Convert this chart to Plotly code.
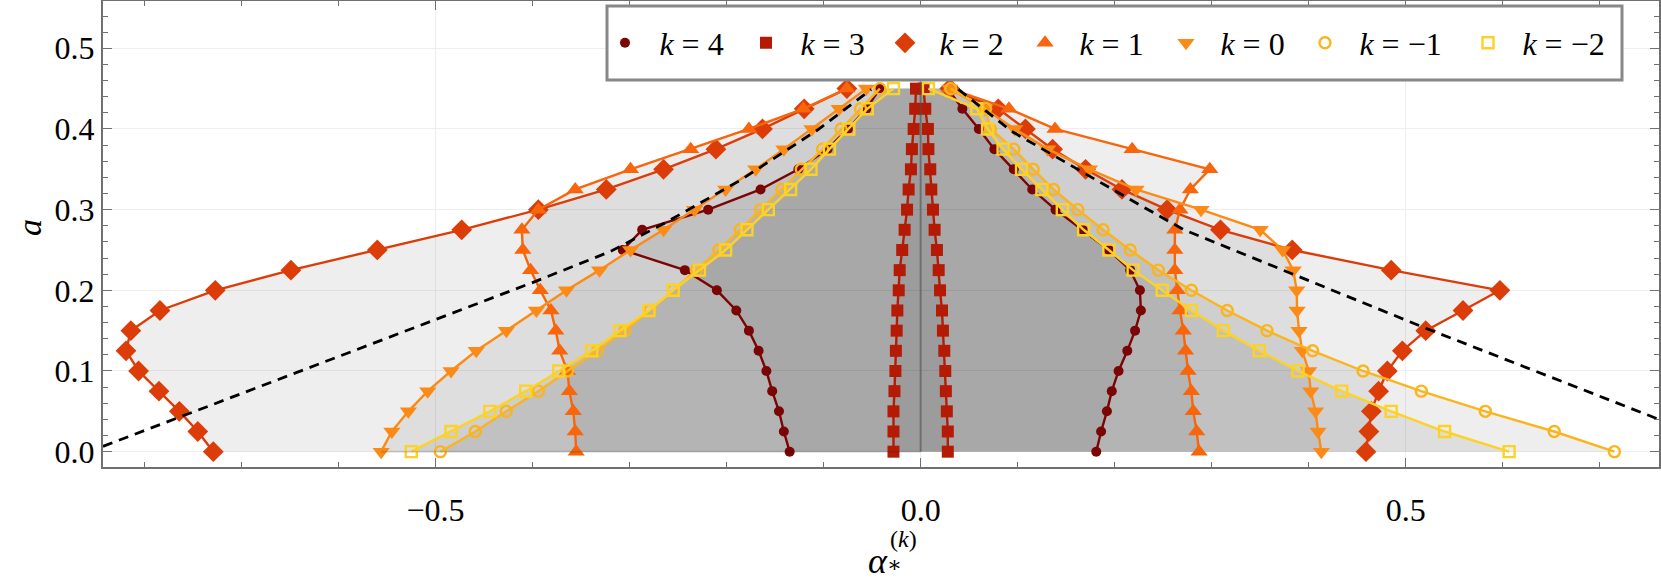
import plotly.graph_objects as go

# ---------------- data ----------------
a_grid = [0.000, 0.025, 0.050, 0.075, 0.100, 0.125, 0.150, 0.175, 0.200, 0.225,
          0.250, 0.275, 0.300, 0.325, 0.350, 0.375, 0.400, 0.425, 0.450]

k4_left = [-0.135, -0.141, -0.146, -0.153, -0.159, -0.167, -0.177, -0.190, -0.210, -0.243,
           -0.307, -0.287, -0.219, -0.165, -0.126, -0.096, -0.075, -0.056, -0.042]
k4_right = [0.181, 0.186, 0.192, 0.197, 0.204, 0.213, 0.221, 0.227, 0.226, 0.216,
            0.194, 0.167, 0.139, 0.115, 0.096, 0.076, 0.060, 0.043, 0.028]

k3_left = [-0.028, -0.028, -0.028, -0.027, -0.026, -0.0255, -0.0247, -0.024, -0.0226, -0.0216,
           -0.019, -0.0165, -0.014, -0.0124, -0.010, -0.009, -0.0072, -0.0056, -0.0048]
k3_right = [0.028, 0.028, 0.027, 0.026, 0.0254, 0.0244, 0.023, 0.022, 0.020, 0.0186,
            0.0168, 0.0144, 0.0127, 0.011, 0.0099, 0.008, 0.0075, 0.0048, 0.003]

k2_left = [-0.729, -0.745, -0.764, -0.785, -0.806, -0.819, -0.814, -0.784, -0.727, -0.649,
           -0.560, -0.473, -0.394, -0.324, -0.265, -0.211, -0.163, -0.120, -0.076]
k2_right = [0.459, 0.462, 0.4645, 0.472, 0.481, 0.4965, 0.5206, 0.559, 0.597, 0.485,
            0.383, 0.309, 0.254, 0.2075, 0.170, 0.136, 0.108, 0.080, 0.030]

k1_left = [-0.355, -0.356, -0.358, -0.362, -0.364, -0.372, -0.376, -0.381, -0.392, -0.402,
           -0.410, -0.411, -0.394, -0.356, -0.299, -0.237, -0.177, -0.121, -0.076]
k1_right = [0.287, 0.2845, 0.281, 0.279, 0.2756, 0.273, 0.2707, 0.2673, 0.2645, 0.262,
            0.262, 0.262, 0.2673, 0.278, 0.298, 0.218, 0.1385, 0.091, 0.030]

k0_left = [-0.556, -0.545, -0.528, -0.508, -0.484, -0.458, -0.427, -0.396, -0.365, -0.331,
           -0.299, -0.265, -0.233, -0.201, -0.170, -0.141, -0.112, -0.084, -0.056]
k0_right = [0.413, 0.4096, 0.407, 0.402, 0.400, 0.3934, 0.390, 0.388, 0.3876, 0.384,
            0.373, 0.350, 0.289, 0.222, 0.174, 0.131, 0.097, 0.066, 0.030]

km1_left = [-0.495, -0.459, -0.427, -0.394, -0.364, -0.333, -0.305, -0.279, -0.255, -0.231,
            -0.208, -0.186, -0.165, -0.143, -0.123, -0.101, -0.082, -0.062, -0.042]
km1_right = [0.715, 0.653, 0.582, 0.516, 0.456, 0.404, 0.357, 0.316, 0.279, 0.245,
             0.216, 0.188, 0.162, 0.137, 0.116, 0.096, 0.072, 0.067, 0.031]

km2_left = [-0.525, -0.484, -0.444, -0.407, -0.373, -0.339, -0.310, -0.280, -0.255, -0.228,
            -0.201, -0.179, -0.157, -0.134, -0.113, -0.094, -0.074, -0.055, -0.028]
km2_right = [0.6065, 0.540, 0.485, 0.434, 0.389, 0.349, 0.312, 0.279, 0.249, 0.219,
             0.194, 0.168, 0.146, 0.125, 0.104, 0.085, 0.069, 0.058, 0.008]

dash_left_x = [-0.8427, -0.60, -0.40, -0.32, -0.264, -0.185, -0.106, -0.051]
dash_left_a = [0.0066, 0.118, 0.2096, 0.248, 0.2832, 0.337, 0.399, 0.449]
dash_right_x = [0.039, 0.094, 0.2196, 0.2714, 0.5206, 0.761]
dash_right_a = [0.449, 0.397, 0.310, 0.275, 0.153, 0.040]

legend_labels = ["k = 4", "k = 3", "k = 2", "k = 1", "k = 0", "k = −1", "k = −2"]

# ---------------- styles ----------------
FONT = "Liberation Serif, DejaVu Serif, Times New Roman, serif"
styles = [
    (k4_left, k4_right, "#7b0404", "circle", 10),
    (k3_left, k3_right, "#b51a05", "square", 12),
    (k2_left, k2_right, "#dc3c08", "diamond", 16),
    (k1_left, k1_right, "#f8650a", "triangle-up", 15),
    (k0_left, k0_right, "#fb8b16", "triangle-down", 15),
    (km1_left, km1_right, "#fbb41c", "circle-open", 11),
    (km2_left, km2_right, "#fdd226", "square-open", 11),
]
legend_widths = [96, 94, 95, 96, 94, 118, 106]

fig = go.Figure()

# shaded regions (one translucent polygon per k)
for left, right, color, symbol, size in styles:
    fig.add_trace(go.Scatter(
        x=left + right[::-1], y=a_grid + a_grid[::-1],
        mode="lines", fill="toself", fillcolor="rgba(0,0,0,0.068)",
        line=dict(width=0), hoverinfo="skip", showlegend=False))

# curves
for left, right, color, symbol, size in styles:
    for xs in (left, right):
        fig.add_trace(go.Scatter(
            x=xs, y=a_grid, mode="lines+markers",
            line=dict(color=color, width=2.4),
            marker=dict(symbol=symbol, size=size, color=color,
                        line=dict(width=2.4 if "open" in symbol else 0, color=color)),
            showlegend=False, hoverinfo="skip"))

# dashed reference curve
for xs, ys in ((dash_left_x, dash_left_a), (dash_right_x, dash_right_a)):
    fig.add_trace(go.Scatter(
        x=xs, y=ys, mode="lines", line=dict(color="black", width=2.8, dash="10px,7px"),
        showlegend=False, hoverinfo="skip"))

# legend entries (markers only)
for (left, right, color, symbol, size), lab, lw in zip(styles, legend_labels, legend_widths):
    txt = "\u00a0\u2009<i>k</i>" + lab[1:]
    fig.add_trace(go.Scatter(
        x=[None], y=[None], mode="markers", name=txt, legendwidth=lw,
        marker=dict(symbol=symbol, size=size, color=color,
                    line=dict(width=2.4 if "open" in symbol else 0, color=color))))

# axis lines through the origin
fig.add_shape(type="line", xref="x", yref="y", x0=0, x1=0, y0=0, y1=0.46,
              line=dict(color="rgba(80,80,80,0.55)", width=2), layer="above")
fig.add_shape(type="line", xref="x", yref="y", x0=min(k0_left), x1=0, y0=0, y1=0,
              line=dict(color="rgba(0,0,0,0.12)", width=2), layer="above")

# legend box
fig.add_shape(type="rect", xref="paper", yref="paper",
              x0=(607 - 103) / 1556, x1=(1622 - 103) / 1556,
              y0=(467 - 80) / 466, y1=(467 - 6) / 466,
              fillcolor="white", line=dict(color="#888888", width=3), layer="above")

axis_common = dict(
    showline=True, linecolor="#707070", linewidth=2, mirror="allticks",
    ticks="inside", tickcolor="#707070", tickwidth=1.2, ticklen=9,
    showgrid=True, gridcolor="#eeeeee", gridwidth=1, zeroline=False, automargin=False,
    tickfont=dict(family=FONT, size=32, color="black"), tickformat=".1f",
)
fig.update_xaxes(range=[-0.8427, 0.761], dtick=0.5, tick0=0,
                 minor=dict(dtick=0.1, ticks="inside", ticklen=5, tickcolor="#707070", showgrid=False),
                 ticklabelstandoff=14, **axis_common)
fig.update_yaxes(range=[-0.019, 0.5586], dtick=0.1, tick0=0,
                 minor=dict(dtick=0.02, ticks="inside", ticklen=5, tickcolor="#707070", showgrid=False),
                 **axis_common)

fig.update_layout(
    template="none",
    width=1661, height=580,
    margin=dict(l=103, r=2, t=1, b=113, autoexpand=False),
    paper_bgcolor="white", plot_bgcolor="white",
    font=dict(family=FONT, size=32, color="black"),
    showlegend=True,
    legend=dict(orientation="h", x=(605 - 103) / 1556, y=(467 - 43) / 466,
                xanchor="left", yanchor="middle", bgcolor="rgba(0,0,0,0)", borderwidth=0,
                font=dict(family=FONT, size=32, color="black"), itemwidth=30),
    annotations=[
        dict(text="<i>a</i>", xref="paper", yref="paper", x=(30 - 103) / 1556, y=(467 - 228) / 466,
             showarrow=False, textangle=-90, font=dict(family=FONT, size=34),
             xanchor="center", yanchor="middle"),
        dict(text="<i>α</i>", xref="paper", yref="paper", x=(878 - 103) / 1556, y=(467 - 561) / 466,
             showarrow=False, font=dict(family=FONT, size=36), xanchor="center", yanchor="middle"),
        dict(text="∗", xref="paper", yref="paper", x=(894 - 103) / 1556, y=(467 - 579) / 466,
             showarrow=False, font=dict(family=FONT, size=22), xanchor="center", yanchor="bottom"),
        dict(text="(<i>k</i>)", xref="paper", yref="paper", x=(904 - 103) / 1556, y=(467 - 539) / 466,
             showarrow=False, font=dict(family=FONT, size=24), xanchor="center", yanchor="middle"),
    ],
)

fig.write_html("out.html", config={"displayModeBar": False},
               post_script="document.body.style.margin='0px';document.body.style.overflow='hidden';")
